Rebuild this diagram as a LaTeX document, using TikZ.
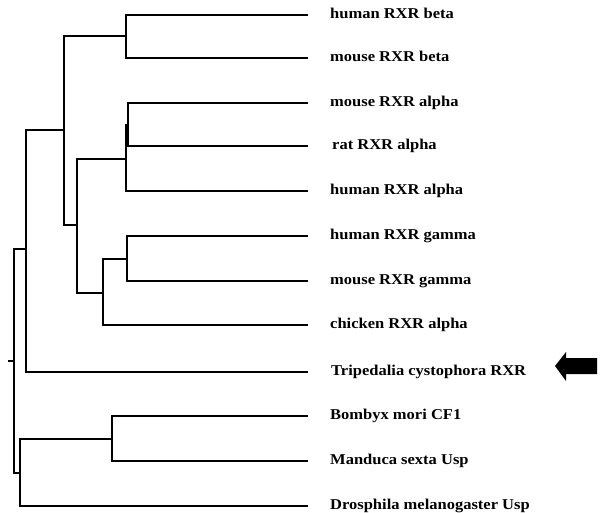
\documentclass[tikz,border=0pt]{standalone}
\usepackage{fontspec}
\setmainfont{Liberation Serif}[FakeStretch=1.1]
\begin{document}
\begin{tikzpicture}[x=1pt,y=-1pt,
  branch/.style={line width=1.1pt,black},
  leaf/.style={anchor=base west,inner sep=0pt,font=\fontsize{15}{18}\selectfont\bfseries}]
\useasboundingbox (0,0) rectangle (601,512);
% leaf ends
\coordinate (hbE) at (308,15);
\coordinate (mbE) at (308,58);
\coordinate (maE) at (308,103);
\coordinate (raE) at (308,146);
\coordinate (haE) at (308,191);
\coordinate (hgE) at (308,236);
\coordinate (mgE) at (308,281);
\coordinate (chE) at (308,325);
\coordinate (trE) at (308,372);
\coordinate (boE) at (308,416);
\coordinate (msE) at (308,461);
\coordinate (drE) at (308,506);
% labels
\node[leaf] (hb) at (330,18.5) {human RXR beta};
\node[leaf] (mb) at (330,61.5) {mouse RXR beta};
\node[leaf] (ma) at (330,106.5) {mouse RXR alpha};
\node[leaf] (ra) at (332,149.5) {rat RXR alpha};
\node[leaf] (ha) at (330,194.5) {human RXR alpha};
\node[leaf] (hg) at (330,239.5) {human RXR gamma};
\node[leaf] (mg) at (330,284.5) {mouse RXR gamma};
\node[leaf] (ch) at (330,328.5) {chicken RXR alpha};
\node[leaf] (tr) at (331,375.5) {Tripedalia cystophora RXR};
\node[leaf] (bo) at (330,419.5) {Bombyx mori CF1};
\node[leaf] (ms) at (330,464.5) {Manduca sexta Usp};
\node[leaf] (dr) at (330,509) {Drosphila melanogaster Usp};
% internal nodes
\coordinate (nBeta) at (126,36);
\coordinate (nMR) at (128,125);
\coordinate (nAlpha) at (126,159);
\coordinate (nGam) at (127,259);
\coordinate (nC) at (103,293);
\coordinate (nB) at (77,225);
\coordinate (nA) at (64,130);
\coordinate (nD) at (26,249);
\coordinate (nF) at (112,439);
\coordinate (nG) at (20,473);
\coordinate (nE) at (14,361);
\coordinate (root) at (8,361);
% branches
\draw[branch] (nBeta) |- (hbE);
\draw[branch] (nBeta) |- (mbE);
\draw[branch] (nMR) |- (maE);
\draw[branch] (nMR) |- (raE);
\draw[branch] (nAlpha) |- (nMR);
\draw[branch] (nAlpha) |- (haE);
\draw[branch] (nGam) |- (hgE);
\draw[branch] (nGam) |- (mgE);
\draw[branch] (nC) |- (nGam);
\draw[branch] (nC) |- (chE);
\draw[branch] (nB) |- (nAlpha);
\draw[branch] (nB) |- (nC);
\draw[branch] (nA) |- (nBeta);
\draw[branch] (nA) |- (nB);
\draw[branch] (nD) |- (nA);
\draw[branch] (nD) |- (trE);
\draw[branch] (nF) |- (boE);
\draw[branch] (nF) |- (msE);
\draw[branch] (nG) |- (nF);
\draw[branch] (nG) |- (drE);
\draw[branch] (nE) |- (nD);
\draw[branch] (nE) |- (nG);
\draw[branch] (root) -- (nE);
% arrow
\fill[black] (555,366) -- (566,352) -- (566,358) -- (597,358) -- (597,374) -- (566,374) -- (566,381) -- cycle;
\end{tikzpicture}
\end{document}
